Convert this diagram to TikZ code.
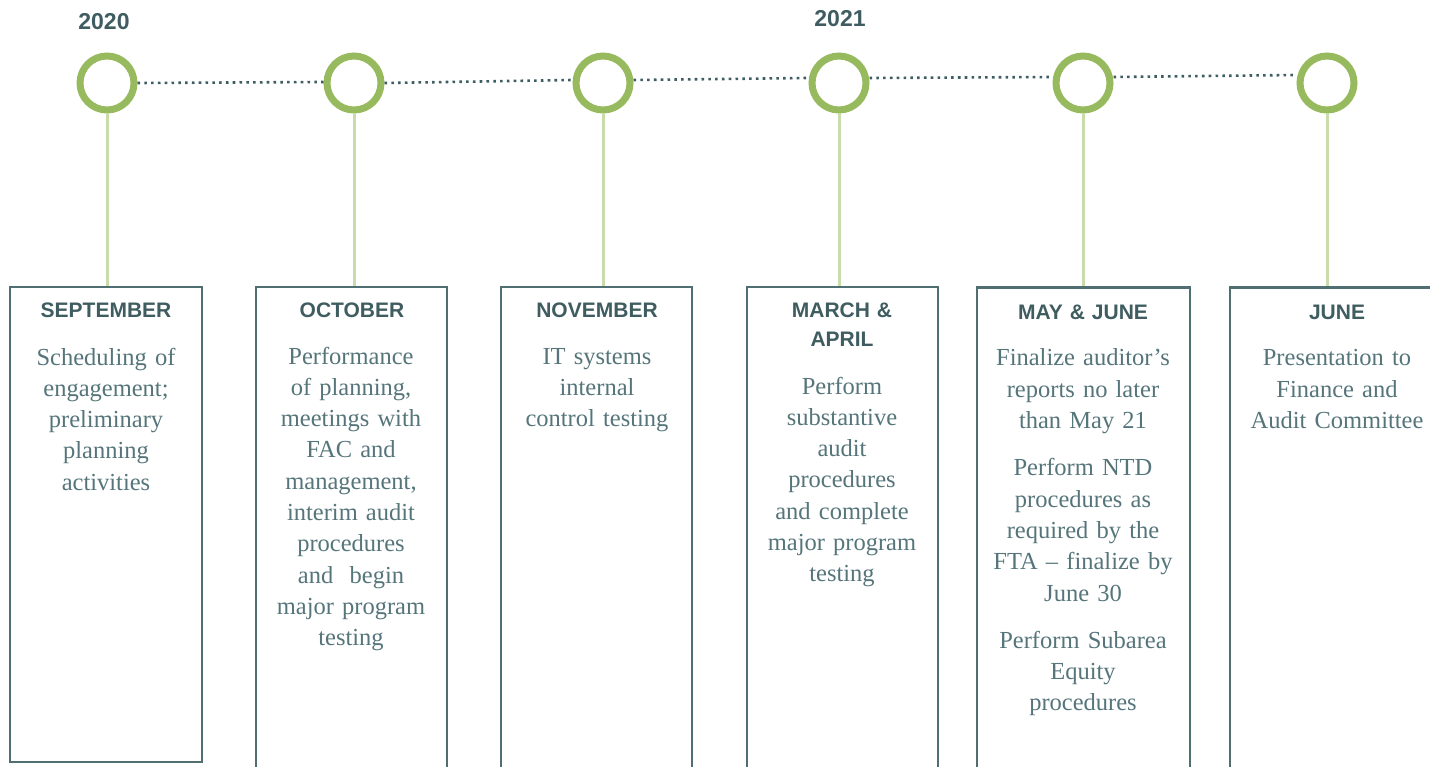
\documentclass[tikz,border=0pt]{standalone}
\usepackage{fontspec}
\setmainfont{Liberation Serif}
\newfontfamily\headfont{Liberation Sans}

\definecolor{ringgreen}{HTML}{97BA5E}
\definecolor{stemgreen}{HTML}{C9DDAA}
\definecolor{frameteal}{HTML}{4F6F73}
\definecolor{headteal}{HTML}{3F5C60}
\definecolor{bodyteal}{HTML}{55757A}
\definecolor{dotteal}{HTML}{3E5D62}

\tikzset{
  ring/.style={circle, draw=ringgreen, line width=7pt, fill=white,
    minimum size=54pt, inner sep=0pt},
  stem/.style={draw=stemgreen, line width=3pt},
  track/.style={draw=dotteal, line width=2.6pt, dash pattern=on 2.6pt off 4.2pt},
  card/.style={draw=frameteal, line width=2.6pt, inner sep=0pt},
  yearlabel/.style={font=\headfont\bfseries\fontsize{23}{27}\selectfont,
    text=headteal, anchor=base, inner sep=0pt},
  monthlabel/.style={font=\headfont\bfseries\fontsize{21}{29}\selectfont,
    text=headteal, anchor=base, inner sep=0pt, align=center, text width=200pt},
  bodytext/.style={font=\fontsize{24.5}{31.3}\selectfont,
    text=bodyteal, anchor=base, inner sep=0pt, align=center, text width=220pt},
}

\begin{document}
\begin{tikzpicture}[x=1pt, y=-1pt]
  \useasboundingbox (0,0) rectangle (1430,767);

  % year labels
  \node[yearlabel] (y2020) at (104,29.5) {2020};
  \node[yearlabel] (y2021) at (840,27) {2021};

  % timeline rings
  \node[ring] (c1) at (107,83) {};
  \node[ring] (c2) at (354,83) {};
  \node[ring] (c3) at (603,83) {};
  \node[ring] (c4) at (839,83) {};
  \node[ring] (c5) at (1083,83) {};
  \node[ring] (c6) at (1327,83) {};

  % dotted track between the rings
  \draw[track] (c1.east) -- ([yshift=1pt]c2.west);
  \draw[track] (c2.east) -- ([yshift=3pt]c3.west);
  \draw[track] ([yshift=3pt]c3.east) -- ([yshift=5pt]c4.west);
  \draw[track] ([yshift=5pt]c4.east) -- ([yshift=6pt]c5.west);
  \draw[track] ([yshift=6pt]c5.east) -- ([yshift=8pt]c6.west);

  % month cards
  \node[card, minimum width=192pt, minimum height=475pt] (b1) at (106,524.5) {};
  \node[card, minimum width=191pt, minimum height=493pt] (b2) at (351.5,533.5) {};
  \node[card, minimum width=191pt, minimum height=493pt] (b3) at (596.5,533.5) {};
  \node[card, minimum width=191pt, minimum height=493pt] (b4) at (842.5,533.5) {};
  \node[card, minimum width=213pt, minimum height=493pt] (b5) at (1083.5,534) {};
  \node[card, minimum width=214pt, minimum height=493pt] (b6) at (1337,534) {};

  % stems from rings down to the cards
  \foreach \i in {1,...,6}
    \draw[stem] (c\i.south) -- (c\i.south |- b\i.north);

  % card headings
  \node[monthlabel] (h1) at (106,318) {SEPTEMBER};
  \node[monthlabel] (h2) at (352,318) {OCTOBER};
  \node[monthlabel] (h3) at (597,318) {NOVEMBER};
  \node[monthlabel] (h4) at (842,318) {MARCH \&\\APRIL};
  \node[monthlabel] (h5) at (1083,320) {MAY \& JUNE};
  \node[monthlabel] (h6) at (1337,320) {JUNE};

  % card texts
  \node[bodytext] (t1) at (106,365) {Scheduling of\\engagement;\\preliminary\\planning\\activities};
  \node[bodytext] (t2) at (351,364) {Performance\\of planning,\\meetings with\\FAC and\\management,\\interim audit\\procedures\\and~~begin\\major program\\testing};
  \node[bodytext] (t3) at (597,364) {IT systems\\internal\\control testing};
  \node[bodytext] (t4) at (842,394) {Perform\\substantive\\audit\\procedures\\and complete\\major program\\testing};
  \node[bodytext] (t5) at (1083,366) {Finalize auditor’s\\reports no later\\than May 21\\[16pt]Perform NTD\\procedures as\\required by the\\FTA – finalize by\\June 30\\[16pt]Perform Subarea\\Equity\\procedures};
  \node[bodytext] (t6) at (1337,366) {Presentation to\\Finance and\\Audit Committee};
\end{tikzpicture}
\end{document}
